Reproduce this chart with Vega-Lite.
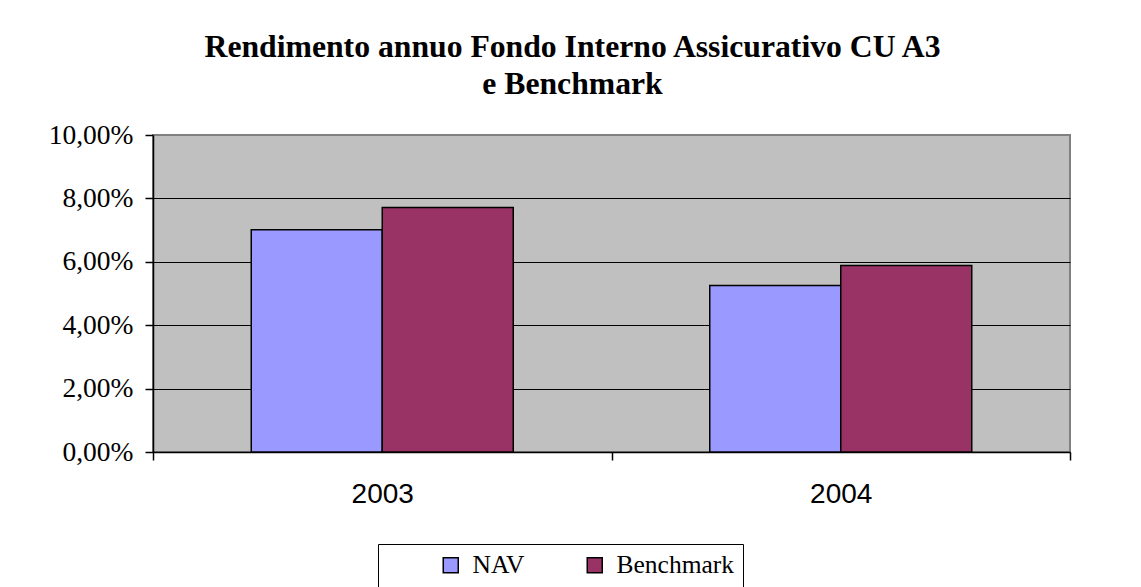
{
  "$schema": "https://vega.github.io/schema/vega-lite/v6.json",
  "width": 917,
  "height": 317,
  "autosize": {"type": "none"},
  "padding": {"left": 153, "top": 135, "right": 71, "bottom": 135},
  "background": "white",
  "title": {
    "text": ["Rendimento annuo Fondo Interno Assicurativo CU A3", "e Benchmark"],
    "font": "Liberation Serif",
    "fontSize": 31.7,
    "fontWeight": "bold",
    "color": "black",
    "lineHeight": 37,
    "anchor": "middle",
    "dx": -39,
    "offset": 20
  },
  "data": {
    "values": [
      {"year": "2003", "series": "NAV", "value": 0.0701},
      {"year": "2003", "series": "Benchmark", "value": 0.0771},
      {"year": "2004", "series": "NAV", "value": 0.0525},
      {"year": "2004", "series": "Benchmark", "value": 0.0588}
    ]
  },
  "mark": {"type": "bar", "stroke": "black", "strokeWidth": 1.5},
  "encoding": {
    "x": {
      "field": "year",
      "type": "nominal",
      "scale": {"paddingInner": 0, "paddingOuter": 0},
      "axis": {
        "title": null,
        "labelAngle": 0,
        "labelFont": "Liberation Sans",
        "labelFontSize": 28,
        "labelColor": "black",
        "labelPadding": 20,
        "domainColor": "black",
        "domainWidth": 1.5,
        "tickColor": "black",
        "tickWidth": 1.5,
        "tickSize": 8,
        "tickBand": "extent",
        "grid": false
      }
    },
    "xOffset": {
      "field": "series",
      "type": "nominal",
      "sort": ["NAV", "Benchmark"],
      "scale": {"paddingInner": 0, "paddingOuter": 0.75}
    },
    "y": {
      "field": "value",
      "type": "quantitative",
      "scale": {"domain": [0, 0.1], "nice": false},
      "axis": {
        "title": null,
        "values": [0, 0.02, 0.04, 0.06, 0.08, 0.1],
        "labelExpr": "replace(format(datum.value, '.2%'), '.', ',')",
        "labelFont": "Liberation Serif",
        "labelFontSize": 27.5,
        "labelColor": "black",
        "labelPadding": 12,
        "domainColor": "black",
        "domainWidth": 1.5,
        "tickColor": "black",
        "tickWidth": 1.5,
        "tickSize": 8,
        "grid": true,
        "gridColor": {"condition": {"test": "datum.value >= 0.099", "value": "#808080"}, "value": "black"},
        "gridWidth": 1.2,
        "gridOpacity": 1
      }
    },
    "color": {
      "field": "series",
      "type": "nominal",
      "sort": ["NAV", "Benchmark"],
      "scale": {"domain": ["NAV", "Benchmark"], "range": ["#9999FF", "#993366"]},
      "legend": {
        "title": "\u2007",
        "titleFontSize": 2,
        "titleOrient": "left",
        "titlePadding": 52,
        "orient": "none",
        "legendX": 225,
        "legendY": 409,
        "direction": "horizontal",
        "columns": 2,
        "columnPadding": 57,
        "padding": 8,
        "strokeColor": "black",
        "fillColor": "white",
        "symbolType": "square",
        "symbolSize": 225,
        "symbolStrokeColor": "black",
        "symbolStrokeWidth": 1.5,
        "symbolOpacity": 1,
        "labelFont": "Liberation Serif",
        "labelFontSize": 25.5,
        "labelColor": "black",
        "labelOffset": 9
      }
    }
  },
  "config": {
    "view": {"fill": "#C0C0C0", "stroke": "#808080", "strokeWidth": 2}
  }
}
